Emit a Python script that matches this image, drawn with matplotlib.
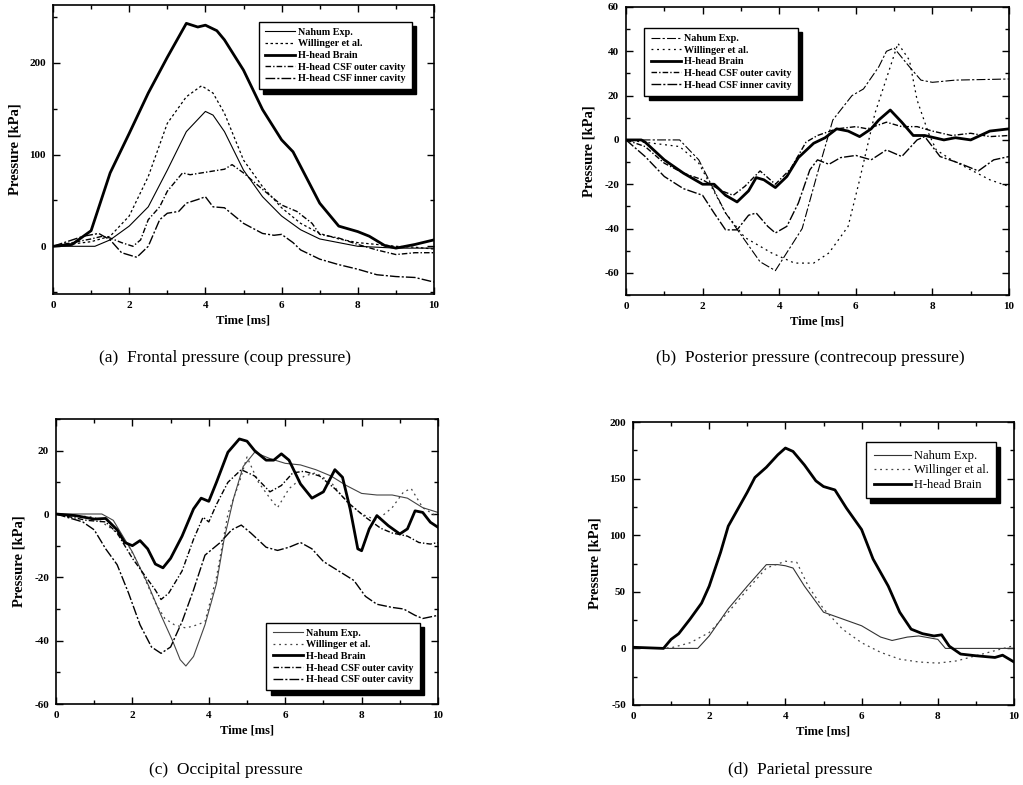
import matplotlib
matplotlib.use("Agg")
import matplotlib.pyplot as plt
from matplotlib.ticker import MultipleLocator

plt.rcParams['font.family'] = ['Liberation Serif', 'DejaVu Serif']
plt.rcParams['axes.unicode_minus'] = False
plt.rcParams['lines.solid_joinstyle'] = 'round'
plt.rcParams['lines.dash_joinstyle'] = 'round'

# ---------------- (a) Frontal pressure ----------------
a_brain_t = [0, 0.5, 1, 1.5, 2, 2.5, 3, 3.5, 3.8, 4, 4.3, 4.5, 5, 5.5, 6, 6.3, 6.5, 7, 7.5, 8, 8.3, 8.7, 9, 9.5, 10]
a_brain = [0, 2, 17, 80, 123, 167, 206, 243, 239, 241, 235, 225, 192, 149, 116, 103, 87, 47, 22, 16, 11, 1, -2, 2, 7]
a_will_t = [0, 1, 1.5, 2, 2.5, 3, 3.5, 3.9, 4.2, 4.5, 5, 5.5, 6, 6.5, 7, 7.5, 8, 9, 9.5, 10]
a_will = [0, 5, 11, 33, 76, 134, 163, 175, 167, 145, 94, 65, 42, 25, 14, 8, 4, 0, -1, -3]
a_nahum_t = [0, 1.1, 1.5, 2, 2.5, 3, 3.5, 4, 4.2, 4.5, 5, 5.5, 6, 6.5, 7, 7.5, 8, 9, 10]
a_nahum = [0, 0, 7, 22, 43, 83, 125, 147, 143, 125, 83, 54, 33, 18, 8, 4, 0, -2, -2]
a_outer_t = [0, 1, 1.3, 1.5, 1.8, 2.1, 2.3, 2.5, 2.8, 3.0, 3.4, 3.6, 3.9, 4.2, 4.5, 4.7, 5, 5.5, 6, 6.4, 6.8, 7, 7.5, 8, 8.5, 9, 9.5, 10]
a_outer = [0, 8, 11, 9, 4, 0, 7, 29, 43, 60, 80, 78, 80, 82, 84, 89, 80, 62, 45, 38, 25, 13, 9, 2, -4, -9, -7, -7]
a_inner_t = [0, 0.8, 1.2, 1.5, 1.8, 2.2, 2.5, 2.8, 3, 3.3, 3.5, 3.8, 4, 4.2, 4.5, 5, 5.5, 5.8, 6, 6.3, 6.5, 7, 7.5, 8, 8.5, 9, 9.5, 10]
a_inner = [0, 11, 14, 7, -7, -12, 0, 29, 36, 38, 47, 51, 54, 43, 42, 25, 14, 12, 13, 4, -4, -14, -20, -25, -31, -33, -34, -39]

# ---------------- (b) Posterior pressure ----------------
b_brain_t = [0, 0.4, 0.5, 1, 1.5, 2, 2.3, 2.6, 2.9, 3.2, 3.4, 3.6, 3.9, 4.2, 4.5, 4.9, 5.2, 5.5, 5.8, 6.1, 6.4, 6.6, 6.9, 7.2, 7.5, 7.8, 8.3, 8.6, 9, 9.5, 10]
b_brain = [0, 0, -1, -9, -15, -20, -20, -25, -28, -23, -17, -18, -21.5, -16.5, -8, -1.5, 1, 5, 4, 1.5, 5, 9, 13.5, 8, 2, 2, 0, 1, 0, 4, 5]
b_nahum_t = [0, 1.4, 1.9, 2.6, 3.5, 3.9, 4.6, 5.0, 5.4, 5.9, 6.2, 6.6, 6.8, 7.0, 7.4, 7.7, 8.0, 8.6, 10]
b_nahum = [0, 0, -9, -33, -55, -59, -40, -15, 9, 20, 23, 33, 40, 41.5, 33, 27, 26, 27, 27.5]
b_will_t = [0, 1.4, 1.9, 2.6, 3.1, 3.8, 4.4, 4.9, 5.3, 5.8, 6.1, 6.5, 6.9, 7.1, 7.4, 7.6, 7.9, 8.1, 8.5, 9.0, 9.5, 10]
b_will = [0, -3, -10.5, -33, -44, -51, -55.6, -55.6, -51, -39, -18, 12, 33, 43.6, 36, 18, 3, -4.5, -9, -13.5, -18, -21]
b_outer_t = [0, 0.5, 1, 1.5, 2, 2.5, 2.8, 3.1, 3.5, 3.9, 4.3, 4.7, 5.0, 5.5, 6, 6.3, 6.8, 7.2, 7.6, 8.0, 8.5, 9, 9.5, 10]
b_outer = [0, -3, -10.5, -15, -18, -23, -25, -21, -14, -20, -13, -1, 2, 5, 6, 5, 8, 6, 6, 4, 2, 3, 1.5, 2]
b_inner_t = [0, 0.5, 1, 1.5, 2, 2.3, 2.6, 2.9, 3.2, 3.4, 3.7, 3.9, 4.2, 4.5, 4.8, 5.0, 5.3, 5.6, 6, 6.4, 6.8, 7.2, 7.6, 7.8, 8.2, 8.7, 9.2, 9.6, 10]
b_inner = [0, -7.5, -16.5, -22, -25, -33, -40.6, -40.6, -34, -33, -39, -42, -39, -28.5, -13.5, -9, -11, -8, -7, -9, -4.5, -7.5, 0, 1.5, -7.5, -10.5, -14, -9, -7.5]

# ---------------- (c) Occipital pressure ----------------
c_brain_t = [0, 0.5, 1, 1.3, 1.6, 1.8, 2.0, 2.2, 2.4, 2.6, 2.8, 3.0, 3.3, 3.6, 3.8, 4.0, 4.2, 4.5, 4.8, 5.0, 5.2, 5.5, 5.7, 5.9, 6.1, 6.4, 6.7, 7.0, 7.3, 7.5, 7.7, 7.9, 8.0, 8.2, 8.4, 8.7, 9.0, 9.2, 9.4, 9.6, 9.8, 10]
c_brain = [0, -0.5, -1.6, -1.4, -5, -9, -10, -8.4, -11, -15.8, -17, -14, -7, 1.6, 5, 4, 10, 19.5, 23.7, 23, 20, 17, 17, 19, 17, 9.5, 5, 7, 14, 11.6, 1.6, -11, -11.6, -4.7, -0.5, -3.7, -6.3, -4.7, 1, 0.5, -2.6, -4.2]
c_nahum_t = [0, 1.2, 1.5, 1.8, 2.0, 2.4, 2.75, 3.05, 3.25, 3.4, 3.6, 3.9, 4.2, 4.4, 4.65, 4.9, 5.2, 5.6, 6.0, 6.4, 6.8, 7.2, 7.6, 8.0, 8.4, 8.8, 9.2, 9.6, 10]
c_nahum = [0, 0, -2, -8, -12, -22, -32, -40, -46, -48, -45, -35, -22, -8, 5, 15, 19.5, 17.5, 16, 15.5, 14, 12, 9, 6.5, 6, 6, 5, 2, 0.5]
c_will_t = [0, 1.0, 1.5, 1.9, 2.2, 2.6, 2.85, 3.1, 3.4, 3.7, 3.9, 4.2, 4.5, 4.8, 5.0, 5.3, 5.6, 5.8, 6.1, 6.5, 6.8, 7.2, 7.6, 8.0, 8.4, 8.8, 9.1, 9.3, 9.6, 10]
c_will = [0, -1, -5, -10, -17, -28, -33, -35, -36, -35, -34, -20, 0, 10, 18, 10, 5, 2, 8, 12, 13, 10, 4, 0, -2, 2, 7, 8, 2, -1]
c_outer_t = [0, 0.8, 1.3, 1.6, 2.0, 2.3, 2.6, 2.75, 2.95, 3.3, 3.6, 3.85, 4.0, 4.2, 4.5, 4.85, 5.2, 5.6, 5.9, 6.2, 6.5, 6.9, 7.3, 7.7, 8.1, 8.5, 8.8, 9.2, 9.5, 9.8, 10]
c_outer = [0, -2, -2.5, -6, -14, -19, -24, -27, -25, -18, -8, -1, -2.5, 3, 10, 14, 12, 7, 9, 13, 13.5, 12, 8, 3, -1, -4.5, -6, -7, -9, -9.5, -9]
c_outer2_t = [0, 0.7, 1.0, 1.3, 1.6, 1.9, 2.2, 2.5, 2.75, 3.0, 3.3, 3.6, 3.9, 4.1, 4.3, 4.6, 4.85, 5.1, 5.5, 5.8, 6.1, 6.4, 6.7, 7.0, 7.4, 7.8, 8.1, 8.4, 8.8, 9.1, 9.4, 9.6, 10]
c_outer2 = [0, -2.5, -5, -11, -16, -25, -35, -42, -44, -42, -34, -24, -13, -11, -9, -5, -3.5, -6, -10.5, -11.5, -10.5, -9, -11, -15, -18, -21, -26, -28.5, -29.5, -30, -32, -33, -32]

# ---------------- (d) Parietal pressure ----------------
d_brain_t = [0, 0.8, 1.0, 1.2, 1.5, 1.8, 2.0, 2.3, 2.5, 2.8, 3.0, 3.2, 3.5, 3.8, 4.0, 4.2, 4.5, 4.8, 5.0, 5.3, 5.6, 6.0, 6.3, 6.7, 7.0, 7.3, 7.6, 7.9, 8.1, 8.3, 8.6, 9.0, 9.5, 9.7, 10]
d_brain = [1, 0, 8, 13, 26, 40, 55, 85, 108, 126, 138, 151, 160, 171, 177, 174, 162, 148, 143, 140, 124, 105, 79, 55, 32, 17, 13, 11, 12, 2, -5, -6.5, -8, -6, -12]
d_nahum_t = [0, 1.7, 2.0, 2.5, 3.0, 3.5, 3.8, 4.0, 4.2, 4.5, 5.0, 5.5, 6.0, 6.5, 6.8, 7.2, 7.5, 8.0, 8.2, 10]
d_nahum = [0, 0, 11, 35, 55, 74, 74, 73, 71, 55, 32, 26, 20, 10, 7, 10, 11, 8, 0, 0]
d_will_t = [0, 1.0, 1.5, 2.0, 2.5, 3.0, 3.5, 4.0, 4.3, 4.6, 5.0, 5.5, 6.0, 6.5, 7.0, 7.5, 8.0, 8.5, 9.0, 9.5, 10]
d_will = [0, 0.5, 5, 14, 32, 52, 71, 77, 76, 55, 35, 17, 5, -3.5, -9.5, -12, -13, -11, -6.5, -2, 2.5]

labels5a = ["Nahum Exp.", "Willinger et al.", "H-head Brain", "H-head CSF outer cavity", "H-head CSF inner cavity"]
labels5c = ["Nahum Exp.", "Willinger et al.", "H-head Brain", "H-head CSF outer cavity", "H-head CSF outer cavity"]
labels3 = ["Nahum Exp.", "Willinger et al.", "H-head Brain"]
captions = ["(a)  Frontal pressure (coup pressure)", "(b)  Posterior pressure (contrecoup pressure)",
            "(c)  Occipital pressure", "(d)  Parietal pressure"]

W, H = 1023, 785
fig = plt.figure(figsize=(W / 100, H / 100), dpi=100)


def make_ax(l, t, r, b):
    return fig.add_axes([l / W, 1 - b / H, (r - l) / W, (b - t) / H])


def style(ax, ylim, major, minor):
    ax.set_xlim(0, 10)
    ax.set_ylim(*ylim)
    ax.xaxis.set_major_locator(MultipleLocator(2))
    ax.xaxis.set_minor_locator(MultipleLocator(1))
    ax.yaxis.set_major_locator(MultipleLocator(major))
    ax.yaxis.set_minor_locator(MultipleLocator(minor))
    ax.tick_params(which='both', direction='in', top=True, right=True, labelsize=8, width=1)
    ax.tick_params(which='major', length=5, pad=5)
    ax.tick_params(which='minor', length=3)
    for lab in ax.get_xticklabels() + ax.get_yticklabels():
        lab.set_fontweight('bold')
    for s in ax.spines.values():
        s.set_linewidth(1.2)
    ax.set_xlabel("Time [ms]", fontsize=9, fontweight='bold', labelpad=3)
    ax.set_ylabel("Pressure [kPa]", fontsize=10.5, fontweight='bold', labelpad=6)


sty_nahum = dict(color='black', lw=0.8, ls='-')
sty_will = dict(color='black', lw=0.9, ls=(0, (2, 2)))
sty_brain = dict(color='black', lw=2.0, ls='-')
sty_outer = dict(color='black', lw=1.0, ls=(0, (4, 1.5, 1, 1.5)))
sty_inner = dict(color='black', lw=1.0, ls=(0, (7, 1.5, 1.5, 1.5)))

shadow = {'color': 'black', 'alpha': 1, 'ox': 3, 'oy': -3}
leg_kw = dict(fancybox=False, shadow=shadow, edgecolor='black', handlelength=3,
              handletextpad=0.3, labelspacing=0.25, borderpad=0.6)

# (a)
ax = make_ax(53, 5, 434, 294)
ax.plot(a_nahum_t, a_nahum, label=labels5a[0], **sty_nahum)
ax.plot(a_will_t, a_will, label=labels5a[1], **sty_will)
ax.plot(a_brain_t, a_brain, label=labels5a[2], **sty_brain)
ax.plot(a_outer_t, a_outer, label=labels5a[3], **sty_outer)
ax.plot(a_inner_t, a_inner, label=labels5a[4], **sty_inner)
style(ax, (-52, 263), 100, 50)
leg = ax.legend(loc='upper right', bbox_to_anchor=(0.955, 0.96), prop={'weight': 'bold', 'size': 7.3}, **leg_kw)
leg.get_frame().set_linewidth(1)

# (b)
ax = make_ax(626, 7, 1009, 295)
ax.plot(b_nahum_t, b_nahum, label=labels5a[0], color='black', lw=0.8, ls=(0, (8, 2, 2, 2)))
ax.plot(b_will_t, b_will, label=labels5a[1], color='black', lw=0.9, ls=(0, (1.5, 3)))
ax.plot(b_brain_t, b_brain, label=labels5a[2], **sty_brain)
ax.plot(b_outer_t, b_outer, label=labels5a[3], **sty_outer)
ax.plot(b_inner_t, b_inner, label=labels5a[4], **sty_inner)
style(ax, (-70, 60), 20, 10)
leg = ax.legend(loc='upper left', bbox_to_anchor=(0.035, 0.945), prop={'weight': 'bold', 'size': 7.3}, **leg_kw)
leg.get_frame().set_linewidth(1)

# (c)
ax = make_ax(56, 419, 438, 704)
ax.plot(c_nahum_t, c_nahum, label=labels5c[0], color='#444444', lw=0.8, ls='-')
ax.plot(c_will_t, c_will, label=labels5c[1], color='#444444', lw=0.9, ls=(0, (1.5, 3)))
ax.plot(c_brain_t, c_brain, label=labels5c[2], **sty_brain)
ax.plot(c_outer_t, c_outer, label=labels5c[3], **sty_outer)
ax.plot(c_outer2_t, c_outer2, label=labels5c[4], **sty_inner)
style(ax, (-60, 30), 20, 10)
leg = ax.legend(loc='lower right', bbox_to_anchor=(0.965, 0.03), prop={'weight': 'bold', 'size': 7.3}, **leg_kw)
leg.get_frame().set_linewidth(1)

# (d)
ax = make_ax(633, 422, 1014, 705)
ax.plot(d_nahum_t, d_nahum, label=labels3[0], color='#333333', lw=0.8, ls='-')
ax.plot(d_will_t, d_will, label=labels3[1], color='#444444', lw=0.9, ls=(0, (1.5, 3)))
ax.plot(d_brain_t, d_brain, label=labels3[2], **sty_brain)
style(ax, (-50, 200), 50, 25)
leg = ax.legend(loc='upper right', bbox_to_anchor=(0.97, 0.95), fancybox=False, shadow=shadow,
                edgecolor='black', prop={'size': 9}, handlelength=3, handletextpad=0.2,
                labelspacing=0.2, borderpad=0.6)
leg.get_frame().set_linewidth(1)

# captions
cap_pos = [(225, 358), (810, 358), (226, 770), (800, 770)]
for (x, y), txt in zip(cap_pos, captions):
    fig.text(x / W, 1 - y / H, txt, ha='center', va='center', fontsize=12.5)

fig.savefig("out.png", dpi=100)
